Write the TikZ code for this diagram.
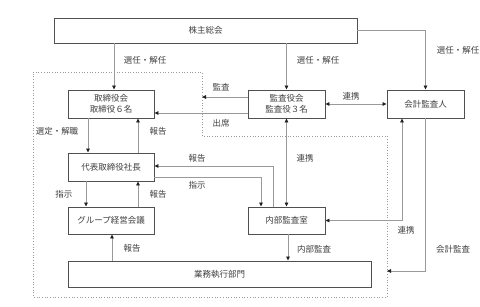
\documentclass[tikz,border=0pt]{standalone}
\usepackage{fontspec}
\setmainfont{Noto Sans CJK JP}
\usetikzlibrary{arrows.meta}
\definecolor{boxc}{HTML}{505050}
\definecolor{linec}{HTML}{9A9A9A}
\definecolor{txtc}{HTML}{404040}
\definecolor{tipc}{HTML}{202020}
\begin{document}
\begin{tikzpicture}[x=1pt,y=-1pt,
  box/.style={draw=boxc, line width=0.9pt, fill=white, inner sep=0pt, font=\fontsize{8.5}{11}\selectfont, text=txtc, align=center},
  conn/.style={draw=linec, line width=0.8pt, -{Triangle[length=4pt,width=3.6pt,color=tipc]}},
  dconn/.style={draw=linec, line width=0.8pt, {Triangle[length=4pt,width=3.6pt,color=tipc]}-{Triangle[length=4pt,width=3.6pt,color=tipc]}},
  lbl/.style={font=\fontsize{8.5}{11}\selectfont, text=txtc, inner sep=0pt},
  region/.style={draw=linec, line width=0.7pt, dotted}]
\useasboundingbox (0,0) rectangle (480,307);

% dotted region
\draw[region] (33,72) -- (202,72) -- (202,136) -- (387,136) -- (387,297) -- (33,297) -- cycle;

% boxes
\node[box, minimum width=303pt, minimum height=25pt] (sh) at (205.5,30.5) {株主総会};
\node[box, minimum width=86pt, minimum height=28pt] (tb) at (111,104) {取締役会\\取締役６名};
\node[box, minimum width=77pt, minimum height=28pt] (ka) at (286.5,104) {監査役会\\監査役３名};
\node[box, minimum width=77pt, minimum height=28pt] (kk) at (425.5,104) {会計監査人};
\node[box, minimum width=86pt, minimum height=28pt] (ceo) at (111,167) {代表取締役社長};
\node[box, minimum width=86pt, minimum height=27pt] (grp) at (111,220.5) {グループ経営会議};
\node[box, minimum width=77pt, minimum height=27pt] (ia) at (286.5,220.5) {内部監査室};
\node[box, minimum width=303pt, minimum height=26pt] (ops) at (219.5,274) {業務執行部門};

% helper coordinates
\coordinate (x114) at (114,0);
\coordinate (x88) at (88,0);
\coordinate (x86) at (86,0);
\coordinate (x138) at (138,0);
\coordinate (x112) at (112,0);
\coordinate (x261) at (261,0);
\coordinate (x273) at (273,0);
\coordinate (x288) at (288,0);
\coordinate (x402) at (402,0);
\coordinate (y113) at (0,113);
\coordinate (y177) at (0,177);
\coordinate (y166) at (0,166);
\coordinate (dotA) at (202,97);
\coordinate (dotB) at (387,271);

% connectors
\draw[conn] (x114 |- sh.south) -- (x114 |- tb.north);
\draw[conn] (sh.south -| ka.north) -- (ka.north);
\draw[conn] (sh.east) -| (kk.north);
\draw[conn] (ka.west |- dotA) -- (dotA);
\draw[conn] (ka.west |- y113) -- (tb.east |- y113);
\draw[dconn] (ka.east) -- (kk.west);
\draw[dconn] (ka.south) -- (ia.north);
\draw[dconn] (x402 |- kk.south) |- (ia.east);
\draw[conn] (kk.south) |- (dotB);
\draw[conn] (x88 |- tb.south) -- (x88 |- ceo.north);
\draw[conn] (x138 |- ceo.north) -- (x138 |- tb.south);
\draw[conn] (x86 |- ceo.south) -- (x86 |- grp.north);
\draw[conn] (x138 |- grp.north) -- (x138 |- ceo.south);
\draw[conn] (x112 |- ops.north) -- (x112 |- grp.south);
\draw[conn] (ceo.east |- y177) -| (x261 |- ia.north);
\draw[conn] (x273 |- ia.north) |- (ceo.east |- y166);
\draw[conn] (x288 |- ia.south) -- (x288 |- ops.north);

% labels
\node[lbl] (l1) at (145,60) {選任・解任};
\node[lbl] (l2) at (318,60) {選任・解任};
\node[lbl] (l3) at (458,50) {選任・解任};
\node[lbl] (l4) at (221,87) {監査};
\node[lbl] (l5) at (221,123) {出席};
\node[lbl] (l6) at (351,96) {連携};
\node[lbl] (l7) at (57,131) {選定・解職};
\node[lbl] (l8) at (158,131) {報告};
\node[lbl] (l9) at (305,158) {連携};
\node[lbl] (l10) at (197,158) {報告};
\node[lbl] (l11) at (197,185) {指示};
\node[lbl] (l12) at (64,194) {指示};
\node[lbl] (l13) at (158,194) {報告};
\node[lbl] (l14) at (406,230) {連携};
\node[lbl] (l15) at (453,249) {会計監査};
\node[lbl] (l16) at (132,248) {報告};
\node[lbl] (l17) at (314,249) {内部監査};
\end{tikzpicture}
\end{document}
